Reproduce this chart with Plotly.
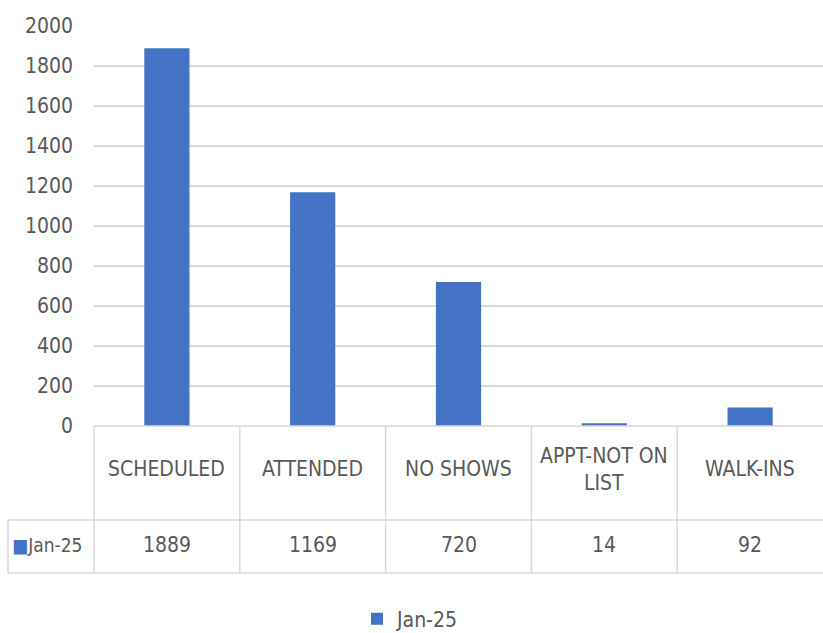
import plotly.graph_objects as go

categories = ["SCHEDULED", "ATTENDED", "NO SHOWS", "APPT-NOT ON LIST", "WALK-INS"]
category_labels = ["SCHEDULED", "ATTENDED", "NO SHOWS", "APPT-NOT ON<br>LIST", "WALK-INS"]
series_name = "Jan-25"
values = [1889, 1169, 720, 14, 92]
y_ticks = [0, 200, 400, 600, 800, 1000, 1200, 1400, 1600, 1800, 2000]

BLUE = "#4472C4"
TXT = "#595959"
GRID = "#d9d9d9"
FONT = "Liberation Sans Narrow, DejaVu Sans Condensed, Arial Narrow, sans-serif"

W, H = 823, 633
ML, MR, MT, MB = 94, 0, 26, 207
PW = W - ML - MR
PH = H - MT - MB


def py(pix):
    return (H - MB - pix) / PH


def px(pix):
    return (pix - ML) / PW


fig = go.Figure()
fig.add_trace(go.Bar(x=categories, y=values, name=series_name,
                     marker=dict(color=BLUE, line=dict(width=0))))

shapes = []
line = dict(color=GRID, width=1.5)
n = len(categories)
shapes.append(dict(type="line", xref="paper", yref="paper", x0=0, x1=1, y0=0, y1=0, line=line))
for yy in (520, 573):
    shapes.append(dict(type="line", xref="paper", yref="paper", x0=px(8), x1=1,
                       y0=py(yy), y1=py(yy), line=line))
shapes.append(dict(type="line", xref="paper", yref="paper", x0=px(8), x1=px(8),
                   y0=py(520), y1=py(573), line=line))
for i in range(n):
    shapes.append(dict(type="line", xref="paper", yref="paper", x0=i / n, x1=i / n,
                       y0=0, y1=py(573), line=line))

annotations = []
for i, (lab, v) in enumerate(zip(category_labels, values)):
    annotations.append(dict(xref="paper", yref="paper", x=(i + 0.5) / n, y=py(469),
                            text=lab, showarrow=False, xanchor="center", yanchor="middle",
                            font=dict(family=FONT, size=21, color=TXT)))
    annotations.append(dict(xref="paper", yref="paper", x=(i + 0.5) / n, y=py(545),
                            text=str(v), showarrow=False, xanchor="center", yanchor="middle",
                            font=dict(family=FONT, size=21, color=TXT)))
annotations.append(dict(xref="paper", yref="paper", x=px(10), y=py(545),
                        text=f"<span style='color:{BLUE}'>■</span>{series_name}",
                        showarrow=False, xanchor="left", yanchor="middle",
                        font=dict(family=FONT, size=19, color=TXT)))

fig.update_layout(
    width=W, height=H,
    margin=dict(l=ML, r=MR, t=MT, b=MB, autoexpand=False),
    paper_bgcolor="white", plot_bgcolor="white",
    bargap=0.69,
    showlegend=True,
    legend=dict(orientation="h", x=px(410), xanchor="center", y=py(619), yanchor="middle",
                font=dict(family=FONT, size=21, color=TXT), itemwidth=30),
    xaxis=dict(range=[-0.5, n - 0.5], showticklabels=False, showgrid=False,
               zeroline=False, showline=False, ticks=""),
    yaxis=dict(range=[0, 2000], tickvals=y_ticks, showgrid=True, gridcolor=GRID, gridwidth=1.5,
               zeroline=False, showline=False, ticks="", ticklabelstandoff=20,
               tickfont=dict(family=FONT, size=21, color=TXT)),
    shapes=shapes,
    annotations=annotations,
)

fig.write_html("out.html", config={"displayModeBar": False})

with open("out.html", "r", encoding="utf-8") as f:
    html = f.read()
html = html.replace("<body>", "<body style=\"margin:0;padding:0;overflow:hidden\">", 1)
with open("out.html", "w", encoding="utf-8") as f:
    f.write(html)
